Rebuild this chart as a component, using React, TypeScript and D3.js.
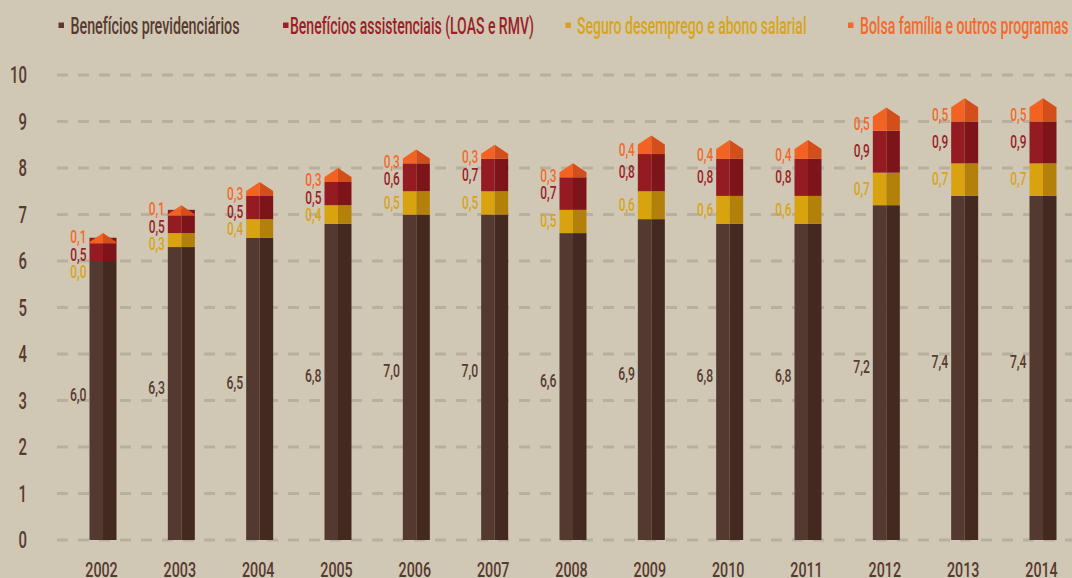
import React from "react";
import * as d3 from "d3";

const years = ["2002","2003","2004","2005","2006","2007","2008","2009","2010","2011","2012","2013","2014"];
const previdenciarios = [6.0,6.3,6.5,6.8,7.0,7.0,6.6,6.9,6.8,6.8,7.2,7.4,7.4];
const assistenciais = [0.5,0.5,0.5,0.5,0.6,0.7,0.7,0.8,0.8,0.8,0.9,0.9,0.9];
const seguro = [0.0,0.3,0.4,0.4,0.5,0.5,0.5,0.6,0.6,0.6,0.7,0.7,0.7];
const bolsa = [0.1,0.1,0.3,0.3,0.3,0.3,0.3,0.4,0.4,0.4,0.5,0.5,0.5];
const yTicks = [0,1,2,3,4,5,6,7,8,9,10];
const legendLabels = [
  "Benefícios previdenciários",
  "Benefícios assistenciais (LOAS e RMV)",
  "Seguro desemprego e abono salarial",
  "Bolsa família e outros programas",
];

const W = 1072, H = 578;
const BG = "#d0c8b4";
const FONT = "Roboto,'DejaVu Sans Condensed',sans-serif";
const light = ["#533930", "#951b22", "#d9a20f", "#f26323"];
const dark = ["#43291f", "#7c1419", "#b38009", "#d24e1b"];
const textCol = ["#573a31", "#9a1f27", "#d9a41b", "#f26a2d"];

const legendPos = [
  { sq: 58.5, tx: 70.5, tw: 169 },
  { sq: 283, tx: 290, tw: 244 },
  { sq: 565.5, tx: 577, tw: 229.5 },
  { sq: 848, tx: 860, tw: 208.5 },
];

function fmt(v: number) {
  return d3.format(".1f")(v).replace(".", ",");
}

function CText(props: { x: number; y: number; sx: number; size: number; anchor: string; fill: string; children: any; baseline?: string }) {
  const { x, y, sx, size, anchor, fill, children, baseline } = props;
  return (
    <text
      transform={`translate(${x},${y}) scale(${sx},1)`}
      textAnchor={anchor as any}
      fontSize={size}
      fill={fill}
      fontFamily={FONT}
      fontWeight={500}
      dominantBaseline={(baseline || "auto") as any}
    >
      {children}
    </text>
  );
}

export default function App() {
  const y = d3.scaleLinear().domain([0, 10]).range([540, 75]);
  const x = d3.scalePoint<string>().domain(years).range([103, 1043]);
  const bw = 27;
  const roof = 9;
  const series = [previdenciarios, seguro, assistenciais, bolsa];
  // stacking order bottom->top: previdenciarios, seguro, assistenciais, bolsa
  const colorIdx = [0, 2, 1, 3];

  const bars = years.map((yr, i) => {
    const cx = x(yr)!;
    const x0 = cx - bw / 2, x1 = cx + bw / 2;
    let base = 0;
    const segs: any[] = [];
    const labelPos: { c: number; v: number; ci: number }[] = [];
    series.forEach((s, si) => {
      const v = s[i];
      const ci = colorIdx[si];
      const yb = y(base), yt = y(base + v);
      if (si < 3) {
        segs.push(
          <g key={si}>
            <rect x={x0} y={yt} width={bw / 2} height={Math.max(0, yb - yt)} fill={light[ci]} />
            <rect x={cx} y={yt} width={bw / 2} height={Math.max(0, yb - yt)} fill={dark[ci]} />
          </g>
        );
        if (si > 0) labelPos.push({ c: (yt + yb) / 2, v, ci });
      } else {
        const ys = yt + roof;
        const ybot = Math.max(yb, ys + 1.5);
        segs.push(
          <g key={si}>
            <polygon points={`${x0},${ybot} ${x0},${ys} ${cx},${yt} ${cx},${ybot}`} fill={light[ci]} />
            <polygon points={`${cx},${ybot} ${cx},${yt} ${x1},${ys} ${x1},${ybot}`} fill={dark[ci]} />
          </g>
        );
        const c = ys > yb ? (yt + yb) / 2 + 2 : (ys + yb) / 2 + 1;
        labelPos.push({ c, v, ci });
      }
      base += v;
    });
    // resolve overlaps: from top (orange) downwards
    const ordered = [...labelPos].reverse();
    for (let k = 1; k < ordered.length; k++) {
      if (ordered[k].c < ordered[k - 1].c + 17.5) ordered[k].c = ordered[k - 1].c + 17.5;
    }
    const labels = ordered.map((l, k) => (
      <CText key={"l" + k} x={x0 - 3} y={l.c + 1} sx={0.66} size={18} anchor="end" fill={textCol[l.ci]} baseline="middle">
        {fmt(l.v)}
      </CText>
    ));
    return (
      <g key={yr}>
        {segs}
        {labels}
        <CText x={x0 - 3} y={y(previdenciarios[i] / 2)} sx={0.66} size={18.5} anchor="end" fill={textCol[0]}>
          {fmt(previdenciarios[i])}
        </CText>
        <CText x={cx - 1.5} y={576.5} sx={0.68} size={21} anchor="middle" fill={textCol[0]}>
          {yr}
        </CText>
      </g>
    );
  });

  return (
    <svg width={W} height={H} style={{ position: "absolute", left: 0, top: 0, background: BG }}>
      <rect x={0} y={0} width={W} height={H} fill={BG} />
      {yTicks.map((t) => (
        <g key={t}>
          <line x1={57} x2={W} y1={y(t)} y2={y(t)} stroke="#b8b09f" strokeWidth={3} strokeDasharray="11 10" />
          <CText x={27} y={y(t)} sx={0.62} size={24} anchor="end" fill={textCol[0]} baseline="central">
            {t}
          </CText>
        </g>
      ))}
      {bars}
      {legendLabels.map((lab, i) => (
        <g key={lab}>
          <rect x={legendPos[i].sq} y={22.5} width={5.5} height={5.5} fill={textCol[i]} />
          <text
            x={legendPos[i].tx}
            y={33.5}
            fontSize={23}
            fontFamily={FONT}
            fontWeight={500}
            fill={textCol[i]}
            textLength={legendPos[i].tw}
            lengthAdjust="spacingAndGlyphs"
          >
            {lab}
          </text>
        </g>
      ))}
    </svg>
  );
}
